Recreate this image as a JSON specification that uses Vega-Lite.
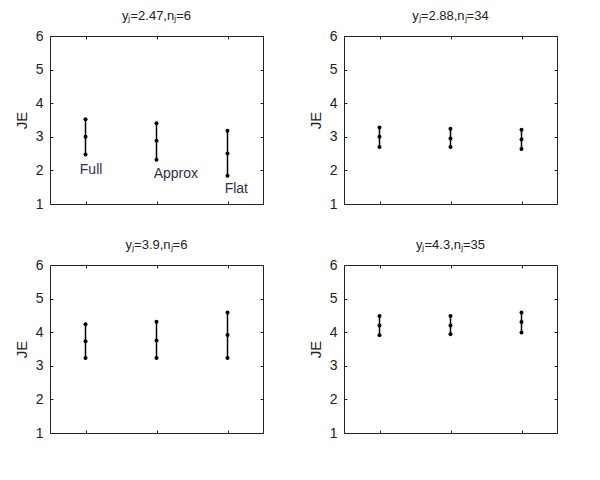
{
  "$schema": "https://vega.github.io/schema/vega-lite/v6.json",
  "padding": {"left": 13, "top": 9, "right": 5, "bottom": 5},
  "background": "white",
  "data": {"values": [
    {"title": "yⱼ=2.47,nⱼ=6", "method": "Full", "pos": 1, "lo": 2.47, "mid": 3.0, "hi": 3.52, "label": "Full", "lx": 0.92, "ly": 2.02},
    {"title": "yⱼ=2.47,nⱼ=6", "method": "Approx", "pos": 2, "lo": 2.32, "mid": 2.88, "hi": 3.4, "label": "Approx", "lx": 1.96, "ly": 1.89},
    {"title": "yⱼ=2.47,nⱼ=6", "method": "Flat", "pos": 3, "lo": 1.84, "mid": 2.5, "hi": 3.18, "label": "Flat", "lx": 2.96, "ly": 1.45},
    {"title": "yⱼ=2.88,nⱼ=34", "method": "Full", "pos": 1, "lo": 2.7, "mid": 3.0, "hi": 3.28},
    {"title": "yⱼ=2.88,nⱼ=34", "method": "Approx", "pos": 2, "lo": 2.7, "mid": 2.95, "hi": 3.24},
    {"title": "yⱼ=2.88,nⱼ=34", "method": "Flat", "pos": 3, "lo": 2.64, "mid": 2.92, "hi": 3.21},
    {"title": "yⱼ=3.9,nⱼ=6", "method": "Full", "pos": 1, "lo": 3.23, "mid": 3.73, "hi": 4.24},
    {"title": "yⱼ=3.9,nⱼ=6", "method": "Approx", "pos": 2, "lo": 3.23, "mid": 3.75, "hi": 4.31},
    {"title": "yⱼ=3.9,nⱼ=6", "method": "Flat", "pos": 3, "lo": 3.23, "mid": 3.92, "hi": 4.59},
    {"title": "yⱼ=4.3,nⱼ=35", "method": "Full", "pos": 1, "lo": 3.91, "mid": 4.2, "hi": 4.48},
    {"title": "yⱼ=4.3,nⱼ=35", "method": "Approx", "pos": 2, "lo": 3.94, "mid": 4.2, "hi": 4.48},
    {"title": "yⱼ=4.3,nⱼ=35", "method": "Flat", "pos": 3, "lo": 3.99, "mid": 4.3, "hi": 4.59}
  ]},
  "facet": {
    "field": "title", "type": "nominal",
    "sort": ["yⱼ=2.47,nⱼ=6", "yⱼ=2.88,nⱼ=34", "yⱼ=3.9,nⱼ=6", "yⱼ=4.3,nⱼ=35"],
    "header": {"title": null, "labelFont": "Liberation Sans", "labelFontSize": 13, "labelColor": "#222", "labelPadding": 6}
  },
  "columns": 2,
  "spacing": {"column": 43, "row": 26},
  "resolve": {
    "scale": {"x": "independent", "y": "independent"},
    "axis": {"x": "independent", "y": "independent"}
  },
  "spec": {
    "width": 213,
    "height": 168,
    "resolve": {"scale": {"x": "independent", "y": "independent"}},
    "layer": [
      {
        "mark": {"type": "rule", "color": "black", "strokeWidth": 1.5},
        "encoding": {
          "x": {"field": "pos", "type": "quantitative", "scale": {"domain": [0.5, 3.5], "nice": false, "zero": false},
                "axis": {"orient": "bottom", "values": [1, 2, 3], "labels": false, "tickSize": -3, "domain": false, "grid": false, "title": null}},
          "y": {"field": "lo", "type": "quantitative", "scale": {"domain": [1, 6], "nice": false, "zero": false},
                "axis": {"orient": "left", "values": [1, 2, 3, 4, 5, 6], "tickSize": -3, "labelPadding": 10, "domain": false, "grid": false, "title": "JE", "titlePadding": 6}},
          "y2": {"field": "hi"}
        }
      },
      {
        "transform": [{"fold": ["lo", "mid", "hi"], "as": ["k", "v"]}],
        "mark": {"type": "point", "filled": true, "color": "black", "size": 16, "opacity": 1},
        "encoding": {
          "x": {"field": "pos", "type": "quantitative", "scale": {"domain": [0.5, 3.5], "nice": false, "zero": false},
                "axis": {"orient": "top", "values": [1, 2, 3], "labels": false, "tickSize": -3, "domain": false, "grid": false, "title": null}},
          "y": {"field": "v", "type": "quantitative", "scale": {"domain": [1, 6], "nice": false, "zero": false},
                "axis": {"orient": "right", "values": [1, 2, 3, 4, 5, 6], "labels": false, "tickSize": -3, "domain": false, "grid": false, "title": null}}
        }
      },
      {
        "transform": [{"filter": "isValid(datum.label)"}],
        "mark": {"type": "text", "align": "left", "baseline": "middle", "font": "Liberation Sans", "fontSize": 14, "color": "#3a2d50"},
        "encoding": {
          "x": {"field": "lx", "type": "quantitative", "scale": {"domain": [0.5, 3.5], "nice": false, "zero": false}, "axis": null},
          "y": {"field": "ly", "type": "quantitative", "scale": {"domain": [1, 6], "nice": false, "zero": false}, "axis": null},
          "text": {"field": "label"}
        }
      }
    ]
  },
  "config": {
    "view": {"stroke": "#222", "strokeWidth": 1},
    "axis": {"labelFont": "Liberation Sans", "labelFontSize": 14, "labelColor": "#222", "titleFont": "Liberation Sans", "titleFontSize": 15, "titleFontWeight": "normal", "titleColor": "#222", "tickColor": "#222", "tickWidth": 1}
  }
}
